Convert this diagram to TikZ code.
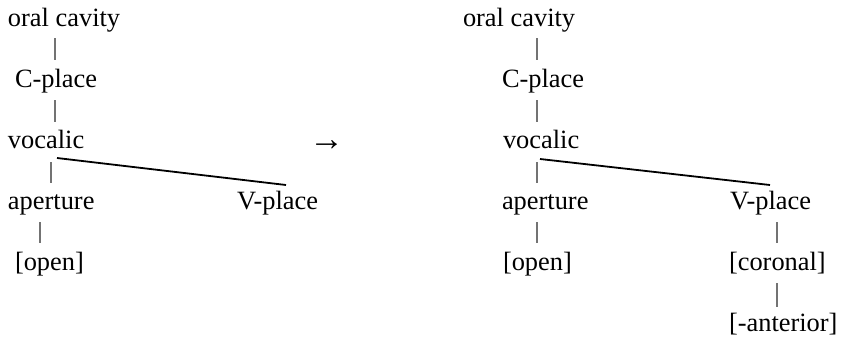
\documentclass[tikz,border=0pt]{standalone}
\usepackage{fontspec}
\setmainfont{Liberation Serif}
\usetikzlibrary{calc}
\begin{document}
\begin{tikzpicture}[x=1pt,y=-1pt,
  lab/.style={anchor=base west,inner sep=0pt,outer sep=0pt,font=\fontsize{26.4}{30}\selectfont},
  vl/.style={draw=black!55,line width=1.2pt},
  tl/.style={draw=black,line width=1.8pt}]
\useasboundingbox (0,0) rectangle (841,338);
% left tree
\node[lab] (oc1) at (8,26) {oral cavity};
\node[lab] (cp1) at (15,87) {C-place};
\node[lab] (vo1) at (8,148) {vocalic};
\node[lab] (ap1) at (8,209) {aperture};
\node[lab] (vp1) at (237,209) {V-place};
\node[lab] (op1) at (15,270) {[open]};
\node[lab,font=\fontsize{35}{40}\selectfont] (arr) at (309,150) {→};
\draw[vl] ($(oc1.base west)+(47,12)$) -- ($(cp1.base west)+(40,-27)$);
\draw[vl] ($(cp1.base west)+(40,13)$) -- ($(vo1.base west)+(47,-26)$);
\draw[vl] ($(vo1.base west)+(43,14)$) -- ($(ap1.base west)+(43,-26)$);
\draw[vl] ($(ap1.base west)+(32,13)$) -- ($(op1.base west)+(25,-27)$);
\draw[tl] ($(vo1.base west)+(49,10)$) -- ($(vp1.base west)+(49,-24)$);
% right tree
\node[lab] (oc2) at (463,26) {oral cavity};
\node[lab] (cp2) at (502,87) {C-place};
\node[lab] (vo2) at (503,148) {vocalic};
\node[lab] (ap2) at (502,209) {aperture};
\node[lab] (vp2) at (730,209) {V-place};
\node[lab] (op2) at (503,270) {[open]};
\node[lab] (co2) at (729,270) {[coronal]};
\node[lab] (an2) at (729,331) {[-anterior]};
\draw[vl] ($(oc2.base west)+(74,12)$) -- ($(cp2.base west)+(35,-27)$);
\draw[vl] ($(cp2.base west)+(35,13)$) -- ($(vo2.base west)+(34,-26)$);
\draw[vl] ($(vo2.base west)+(34,14)$) -- ($(ap2.base west)+(35,-26)$);
\draw[vl] ($(ap2.base west)+(35,13)$) -- ($(op2.base west)+(34,-27)$);
\draw[tl] ($(vo2.base west)+(37,11)$) -- ($(vp2.base west)+(40,-24)$);
\draw[vl] ($(vp2.base west)+(47,13)$) -- ($(co2.base west)+(48,-27)$);
\draw[vl] ($(co2.base west)+(48,13)$) -- ($(an2.base west)+(48,-24)$);
\end{tikzpicture}
\end{document}
